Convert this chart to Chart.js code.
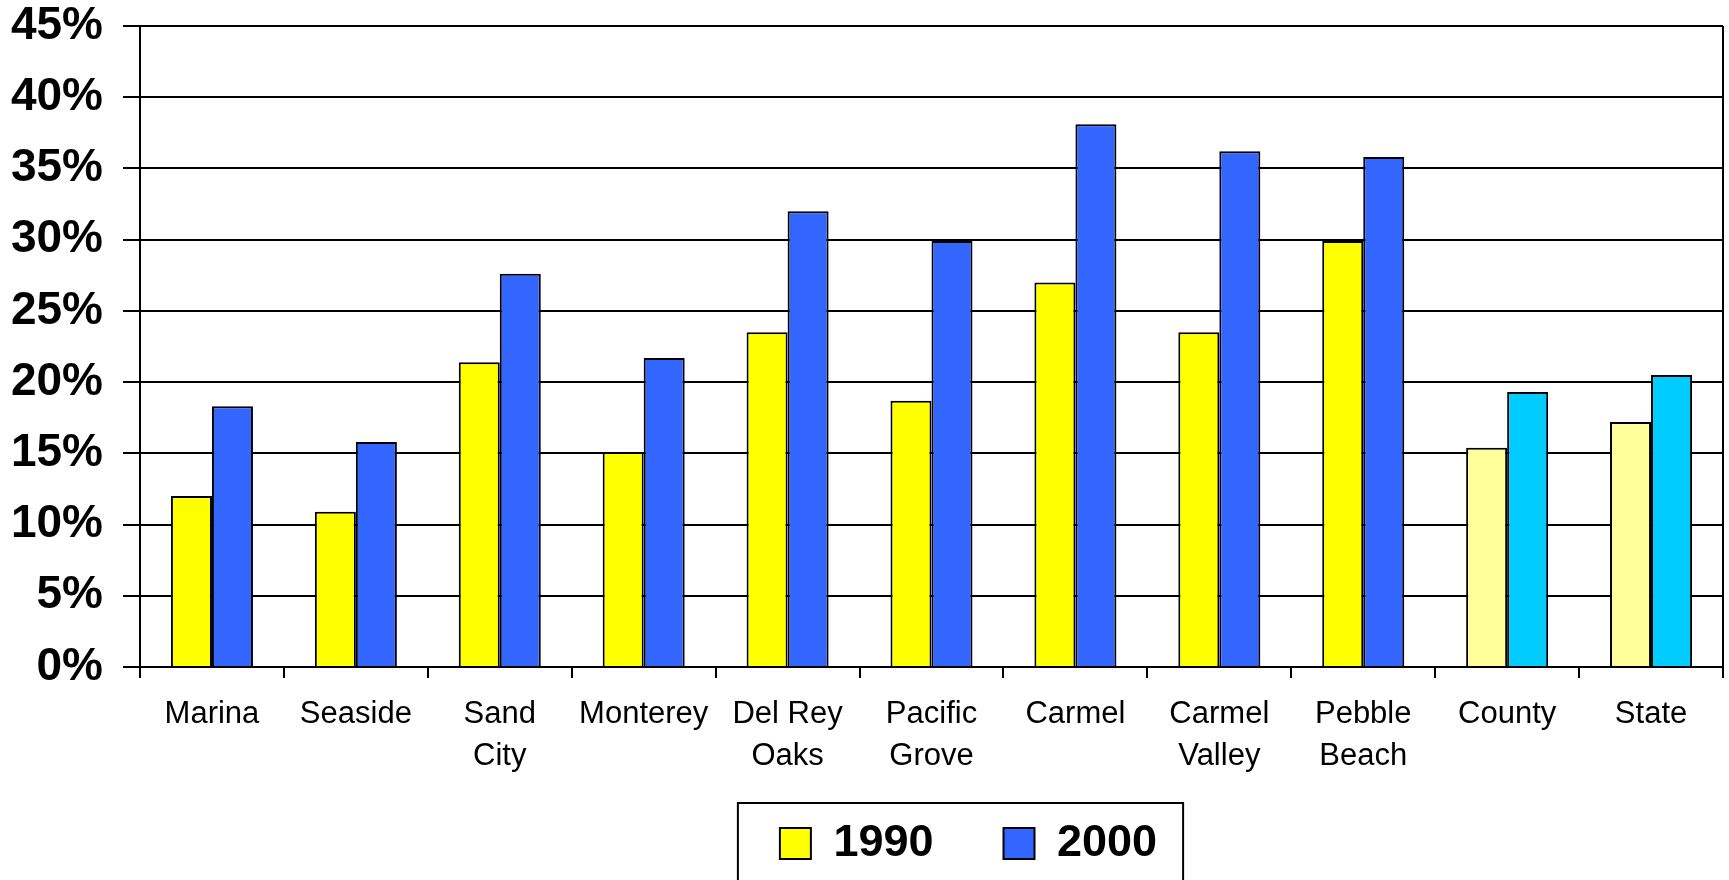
<!DOCTYPE html>
<html>
<head>
<meta charset="utf-8">
<script src="https://cdn.jsdelivr.net/npm/chart.js@4"></script>
<style>
  body { margin: 0; background: #fff; }
  #wrap { width: 1729px; height: 880px; }
</style>
</head>
<body>
<div id="wrap"><canvas id="chart"></canvas></div>
<script>

const labels = [
  'Marina',
  'Seaside',
  ['Sand', 'City'],
  'Monterey',
  ['Del Rey', 'Oaks'],
  ['Pacific', 'Grove'],
  'Carmel',
  ['Carmel', 'Valley'],
  ['Pebble', 'Beach'],
  'County',
  'State'
];

const values1990 = [12.0, 10.9, 21.4, 15.1, 23.5, 18.7, 27.0, 23.5, 29.9, 15.4, 17.2];
const values2000 = [18.3, 15.8, 27.6, 21.7, 32.0, 29.9, 38.1, 36.2, 35.8, 19.3, 20.5];

const yTicks = [0, 5, 10, 15, 20, 25, 30, 35, 40, 45];

// County and State are drawn in lighter shades
const firstRegion = 9;

const fontFamily = 'Arial, "Liberation Sans", sans-serif';

const data = {
  labels: labels,
  datasets: [{
    label: '1990',
    data: values1990,
    backgroundColor: ctx => ctx.dataIndex >= firstRegion ? '#FFFF99' : '#FFFF00',
    borderColor: '#000',
    borderWidth: 2
  }, {
    label: '2000',
    data: values2000,
    backgroundColor: ctx => ctx.dataIndex >= firstRegion ? '#00CCFF' : '#3366FF',
    borderColor: '#000',
    borderWidth: 2
  }]
};

// moves the legend into place and draws the frame round it, like the original
const legendFrame = {
  id: 'legendFrame',
  afterLayout(chart) {
    chart.legend.left += 107;
    chart.legend.right += 107;
    chart.legend.top -= 60;
  },
  afterDraw(chart) {
    const hb = chart.legend.legendHitBoxes;
    if (!hb || !hb.length) return;
    const last = hb[hb.length - 1];
    const ctx = chart.ctx;
    ctx.save();
    ctx.strokeStyle = '#000';
    ctx.lineWidth = 2;
    ctx.strokeRect(hb[0].left - 42, hb[0].top - 18, last.left + last.width - hb[0].left + 68, 200);
    ctx.restore();
  }
};

const config = {
  type: 'bar',
  data: data,
  plugins: [legendFrame],
  options: {
    responsive: true,
    maintainAspectRatio: false,
    animation: false,
    layout: {
      padding: { top: 0, right: 6, bottom: 4, left: 0 }
    },
    datasets: {
      bar: {
        categoryPercentage: 0.57,
        barPercentage: 1.0
      }
    },
    scales: {
      x: {
        grid: {
          offset: true,
          drawOnChartArea: true,
          color: ctx => ctx.index === undefined ? '#000' : 'rgba(0,0,0,0)',
          tickColor: '#000',
          lineWidth: 2,
          tickLength: 11
        },
        border: { color: '#000', width: 2 },
        ticks: {
          color: '#000',
          padding: 15,
          maxRotation: 0,
          autoSkip: false,
          font: { family: fontFamily, size: 31, lineHeight: 1.355 }
        },
        afterFit: scale => { scale.height = 144; }
      },
      y: {
        min: 0,
        max: 45,
        afterBuildTicks: scale => { scale.ticks = yTicks.map(v => ({ value: v })); },
        grid: {
          color: '#000',
          lineWidth: 2,
          tickLength: 17
        },
        border: { color: '#000', width: 2 },
        ticks: {
          color: '#000',
          padding: 20,
          font: { family: fontFamily, size: 46, weight: 'bold', lineHeight: 1.13 },
          callback: v => v + '%'
        },
        afterFit: scale => {
          scale.width = 140;
          scale.paddingTop = 26;
          scale.paddingBottom = 0;
        }
      }
    },
    plugins: {
      legend: {
        position: 'bottom',
        maxHeight: 65,
        labels: {
          color: '#000',
          boxWidth: 31,
          boxHeight: 31,
          padding: 70,
          font: { family: fontFamily, size: 45, weight: 'bold' }
        }
      },
      tooltip: { enabled: false }
    }
  }
};

const myChart = new Chart(
  document.getElementById('chart'),
  config
);

</script>
</body>
</html>
